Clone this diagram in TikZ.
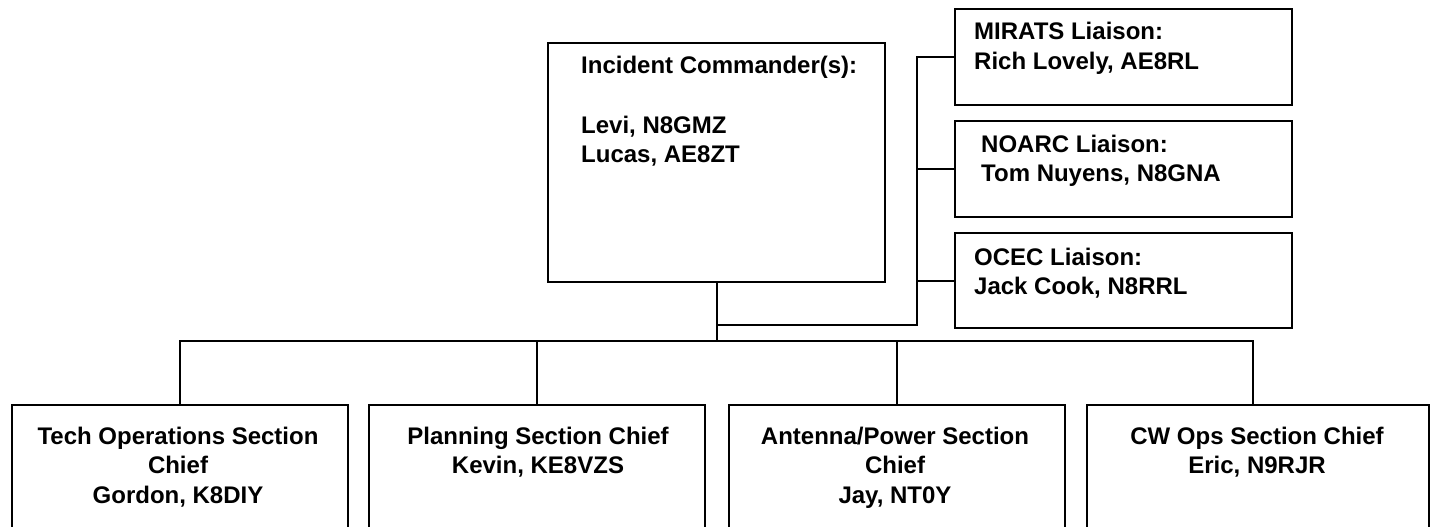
\documentclass[tikz,border=0pt]{standalone}
\usepackage{fontspec}
\setmainfont{Liberation Sans}
\begin{document}
\begin{tikzpicture}[x=1pt,y=-1pt,
  box/.style={draw=black,line width=2.4pt,rectangle,inner sep=0pt,anchor=north west},
  conn/.style={draw=black,line width=2.4pt},
  lbl/.style={inner sep=0pt,font=\bfseries\fontsize{24}{29.5}\selectfont}]
\useasboundingbox (0,0) rectangle (1434,527);
\clip (0,0) rectangle (1434,527);
% boxes
\node[box,minimum width=337pt,minimum height=239pt] (ic) at (547,42) {};
\node[box,minimum width=337pt,minimum height=96pt] (m) at (954,8) {};
\node[box,minimum width=337pt,minimum height=96pt] (n) at (954,120) {};
\node[box,minimum width=337pt,minimum height=95pt] (o) at (954,232) {};
\node[box,minimum width=336pt,minimum height=160pt] (t) at (11,404) {};
\node[box,minimum width=336pt,minimum height=160pt] (p) at (368,404) {};
\node[box,minimum width=336pt,minimum height=160pt] (a) at (728,404) {};
\node[box,minimum width=342pt,minimum height=160pt] (c) at (1086,404) {};
% junctions
\coordinate (bus) at (0,341);
\coordinate (cd) at (1253,341);
\coordinate (lv) at (917,325);
% connectors
\draw[conn] (t.north) -- (t.north |- bus) -- (cd) -- (cd |- c.north);
\draw[conn] (p.north) -- (p.north |- bus);
\draw[conn] (a.north) -- (a.north |- bus);
\draw[conn] (ic.south) -- (ic.south |- bus);
\draw[conn] (ic.south |- lv) -- (lv) -- (lv |- m.west) -- (m.west);
\draw[conn] (lv |- n.west) -- (n.west);
\draw[conn] (lv |- o.west) -- (o.west);
% texts
\node[lbl,anchor=base west] (ict) at (581,74) {\begin{tabular}[t]{@{}l@{}}Incident Commander(s):\\ \\ Levi, N8GMZ\\ Lucas, AE8ZT\end{tabular}};
\node[lbl,anchor=base west] (mt) at (974,40) {\begin{tabular}[t]{@{}l@{}}MIRATS Liaison:\\ Rich Lovely, AE8RL\end{tabular}};
\node[lbl,anchor=base west] (nt) at (981,152) {\begin{tabular}[t]{@{}l@{}}NOARC Liaison:\\ Tom Nuyens, N8GNA\end{tabular}};
\node[lbl,anchor=base west] (ot) at (974,265) {\begin{tabular}[t]{@{}l@{}}OCEC Liaison:\\ Jack Cook, N8RRL\end{tabular}};
\node[lbl,anchor=base] (tt) at (178,444) {\begin{tabular}[t]{@{}c@{}}Tech Operations Section\\ Chief\\ Gordon, K8DIY\end{tabular}};
\node[lbl,anchor=base] (pt) at (538,444) {\begin{tabular}[t]{@{}c@{}}Planning Section Chief\\ Kevin, KE8VZS\end{tabular}};
\node[lbl,anchor=base] (at) at (895,444) {\begin{tabular}[t]{@{}c@{}}Antenna/Power Section\\ Chief\\ Jay, NT0Y\end{tabular}};
\node[lbl,anchor=base] (ct) at (1257,444) {\begin{tabular}[t]{@{}c@{}}CW Ops Section Chief\\ Eric, N9RJR\end{tabular}};
\end{tikzpicture}
\end{document}
